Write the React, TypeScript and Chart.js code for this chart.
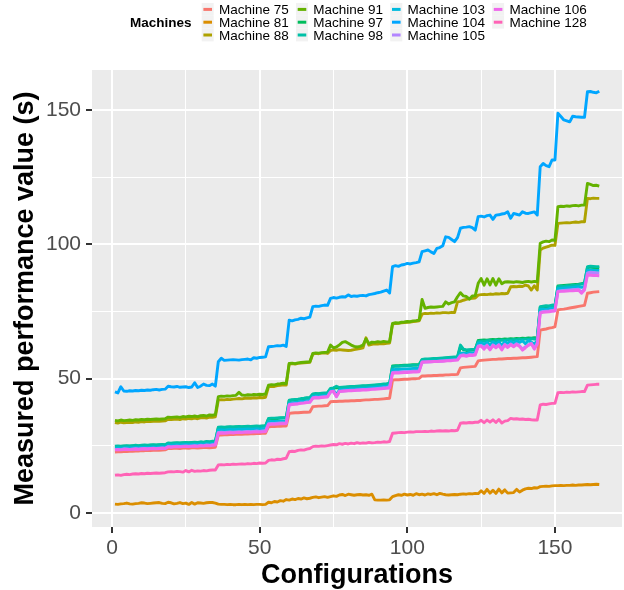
import React, { useEffect, useRef } from "react";
import { Chart, registerables } from "chart.js";

Chart.register(...registerables);

const machineNames = [
  "Machine 75", "Machine 81", "Machine 88", "Machine 91", "Machine 97", "Machine 98",
  "Machine 103", "Machine 104", "Machine 105", "Machine 106", "Machine 128",
];
const machineColors = [
  "#F8766D", "#DB8E00", "#AEA200", "#64B200", "#00BD5C", "#00C1A7",
  "#00BADE", "#00A6FF", "#B385FF", "#EF67EB", "#FF63B6",
];

const m75 = [
  22.7, 22.8, 22.8, 22.9, 22.9, 23.0, 23.0, 23.1, 23.1, 23.2, 23.2, 23.3, 23.2, 23.3, 23.4, 23.3, 23.4, 23.5, 24.0, 24.0, 24.1, 24.1, 24.0, 24.2, 24.2, 24.1, 24.3, 24.3, 24.2, 24.3, 24.4, 24.4, 24.3, 24.4, 24.5,
  29.0, 29.0, 29.1, 29.1, 29.2, 29.2, 29.3, 29.3, 29.3, 29.4, 29.4, 29.5, 29.5, 29.6, 29.6, 29.7, 29.7,
  32.1, 32.2, 32.2, 32.3, 32.3, 32.4, 32.4,
  37.1, 37.2, 37.3, 37.3, 37.4, 37.5, 37.5, 37.6,
  39.6, 39.7, 39.8, 39.8, 39.9, 40.0,
  41.4, 41.5, 41.5, 41.6, 41.6, 41.7, 41.7, 41.8, 41.8, 41.9, 41.9, 42.0, 42.1, 42.1, 42.2, 42.3, 42.3, 42.4, 42.5, 42.6, 42.7,
  49.5, 49.6, 49.6, 49.7, 49.8, 49.8, 49.9, 50.0, 50.0, 50.1,
  51.0, 51.0, 51.1, 51.1, 51.2, 51.2, 51.3, 51.3,
  51.4, 51.4, 51.5, 51.5, 51.6,
  54.0, 54.2, 54.3, 54.4, 54.5, 54.6,
  56.6, 56.8, 56.9, 57.0, 57.1, 57.2, 57.2, 57.3, 57.3, 57.4, 57.5, 57.5, 57.6, 57.6, 57.7, 57.8, 57.8, 57.9, 58.0, 58.1, 58.2,
  68.1, 68.3, 68.5, 68.8, 69.0, 69.3,
  75.6, 75.8, 75.9, 76.1, 76.3, 76.5, 76.7, 76.9, 77.1, 77.3,
  81.8, 82.0, 82.2, 82.3, 82.4,
];
const m81 = [
  3.3, 3.2, 3.4, 3.5, 3.7, 3.4, 3.3, 3.5, 3.6, 3.8, 3.7, 3.5, 3.6, 3.7, 3.8, 3.9, 3.6, 3.5, 4.0, 3.8, 3.4, 3.6, 3.9, 3.5, 3.7, 3.2, 3.9, 3.3, 3.8, 3.7, 3.6, 3.8, 3.9, 3.9, 3.7,
  3.3, 3.2, 3.2, 3.1, 3.2, 3.1, 3.1, 3.2, 3.1, 3.2, 3.1, 3.2, 3.1, 3.2, 3.2, 3.1, 3.2,
  4.0, 3.8, 4.3, 4.1, 4.6, 4.4, 5.0,
  4.8, 5.2, 5.0, 5.4, 5.2, 5.6, 5.3, 5.5,
  5.8, 6.0, 5.7, 5.9, 6.1, 5.8,
  6.1, 6.4, 6.2, 6.7, 6.9, 6.5, 7.0, 6.8, 6.6, 6.8, 6.9, 6.7, 6.8, 6.6, 7.0, 4.9, 4.8, 4.8, 4.9, 4.8, 4.9,
  6.1, 6.5, 6.8, 6.6, 7.0, 6.7, 6.9, 6.6, 7.2, 6.8,
  7.0, 6.7, 7.1, 6.9, 7.2, 6.8, 7.3, 7.0,
  6.8, 6.7, 6.8, 6.9, 6.8,
  7.0, 7.1, 7.0, 7.2, 7.1, 7.3,
  7.2, 8.3, 7.3, 8.8, 7.4, 8.5, 7.3, 8.9, 7.5, 8.6, 7.4, 7.5, 7.6, 8.8, 7.8, 8.5, 9.0, 9.2, 9.1, 9.4, 9.3,
  9.8, 9.9, 10.0, 9.9, 10.1, 10.2,
  10.2, 10.3, 10.2, 10.3, 10.3, 10.4, 10.3, 10.4, 10.4, 10.5,
  10.6, 10.5, 10.6, 10.7, 10.6,
];
const m88 = [
  33.7, 33.5, 33.8, 33.6, 33.7, 33.8, 33.7, 33.9, 33.8, 34.0, 33.9, 34.1, 34.0, 34.1, 34.2, 34.1, 34.2, 34.3, 34.9, 34.8, 34.9, 35.0, 34.8, 35.1, 35.0, 35.2, 35.1, 35.3, 35.1, 35.4, 35.5, 35.3, 35.7, 35.6, 35.8,
  42.0, 42.2, 42.1, 42.3, 42.2, 42.4, 42.5, 42.6, 42.5, 42.7, 42.8, 42.7, 42.9, 42.8, 43.0, 42.9, 43.1,
  47.0, 47.2, 47.1, 47.4, 47.5, 47.7, 47.6,
  55.5, 55.6, 55.4, 55.7, 55.8, 55.9, 56.0, 56.1,
  59.2, 59.4, 59.3, 59.5, 59.6, 59.4,
  60.5, 60.7, 60.6, 60.8, 60.7, 60.6, 60.5, 60.6, 60.8, 61.0, 61.2, 61.5, 65.2, 62.5, 62.8, 63.0, 62.9, 63.1, 63.0, 63.2, 63.3,
  70.4, 70.5, 70.6, 70.8, 70.9, 71.0, 71.1, 71.3, 71.4, 71.5,
  74.0, 74.3, 74.2, 74.4, 74.3, 74.5, 74.4, 74.6,
  74.6, 74.5, 74.7, 74.6, 78.6,
  78.8, 79.2, 79.5, 79.8, 79.9, 80.0,
  81.1, 81.3, 81.4, 81.3, 81.5, 81.4, 81.6, 81.5, 81.7, 81.6, 81.8, 84.2, 84.3, 84.2, 84.4, 84.3, 84.8, 84.5, 83.0, 84.6, 83.0,
  97.9, 98.6, 99.0, 99.3, 99.7, 99.6,
  107.8, 107.9, 108.0, 108.1, 108.0, 108.2, 108.3, 108.2, 108.4, 108.4,
  117.1, 117.0, 117.2, 117.1, 117.1,
];
const m91 = [
  34.5, 34.3, 34.6, 34.4, 34.5, 34.6, 34.5, 34.7, 34.6, 34.8, 34.7, 34.9, 34.8, 34.9, 35.0, 34.9, 35.0, 35.1, 35.7, 35.6, 35.7, 35.8, 35.6, 35.9, 35.8, 36.0, 35.9, 36.1, 35.9, 36.2, 36.3, 36.1, 36.5, 36.4, 36.6,
  43.3, 43.5, 43.4, 43.6, 43.5, 43.7, 43.8, 44.9, 43.9, 43.8, 44.0, 43.9, 44.1, 44.0, 44.2, 44.1, 44.3,
  47.6, 47.8, 47.7, 48.0, 48.1, 48.3, 48.2,
  55.7, 55.8, 55.6, 55.9, 56.0, 56.1, 56.2, 56.3,
  59.4, 59.6, 59.5, 59.7, 59.8, 59.9,
  62.5, 61.5, 61.8, 62.6, 63.5, 63.8, 63.2, 62.5, 62.0, 61.8, 62.0, 62.5, 64.8, 63.0, 63.6, 63.5, 63.8, 63.6, 63.9, 63.7, 63.8,
  70.6, 70.8, 70.7, 71.0, 71.1, 71.3, 71.2, 71.5, 71.6, 71.8,
  79.5, 76.2, 76.5, 76.7, 76.6, 76.7, 76.8, 76.9,
  78.6, 77.8, 78.3, 78.6, 80.5,
  82.0, 80.8, 80.6, 79.6, 80.8, 80.9,
  85.5, 87.3, 84.8, 87.2, 84.9, 87.3, 84.8, 87.2, 85.3, 86.0, 86.1, 86.0, 85.9, 86.1, 86.0, 85.8, 86.1, 86.2, 86.0, 86.2, 86.1,
  100.4, 100.9, 101.2, 101.0, 101.6, 101.5,
  114.0, 114.2, 114.1, 114.3, 114.2, 114.4, 114.5, 114.3, 114.6, 114.6,
  122.7, 122.3, 121.9, 122.0, 121.7,
];
const m97 = [
  24.7, 24.8, 24.8, 24.9, 24.9, 24.9, 25.0, 25.0, 25.0, 25.1, 25.1, 25.1, 25.2, 25.2, 25.2, 25.3, 25.3, 25.3, 25.9, 25.9, 26.0, 26.0, 26.0, 26.1, 26.1, 26.1, 26.2, 26.2, 26.2, 26.3, 26.3, 26.4, 26.4, 26.5, 26.6,
  31.7, 31.8, 31.8, 31.9, 31.9, 31.9, 32.0, 32.0, 32.0, 32.1, 32.1, 32.1, 32.2, 32.2, 32.2, 32.3, 32.3,
  35.0, 35.1, 35.2, 35.2, 35.3, 35.4, 35.4,
  41.8, 42.0, 42.1, 42.3, 42.4, 42.6, 42.7, 42.8,
  44.1, 44.2, 44.3, 44.4, 44.5, 44.6,
  46.2, 46.4, 46.7, 46.5, 46.6, 46.7, 46.8, 46.9, 46.9, 47.0, 47.1, 47.2, 47.2, 47.3, 47.4, 47.5, 47.6, 47.7, 47.8, 47.9, 48.1,
  54.7, 54.8, 54.8, 54.9, 55.0, 55.0, 55.1, 55.2, 55.2, 55.3,
  57.0, 57.1, 57.2, 57.2, 57.3, 57.4, 57.4, 57.5,
  57.6, 57.7, 57.8, 57.9, 58.0,
  61.8, 60.8, 60.5, 60.6, 60.7, 60.8,
  64.2, 64.3, 64.4, 64.3, 64.5, 64.6, 64.5, 64.7, 64.6, 64.8, 64.7, 64.9, 64.8, 65.0, 64.9, 65.1, 65.0, 65.2, 65.1, 65.3, 65.2,
  76.5, 76.8, 76.9, 76.8, 77.1, 77.0,
  84.5, 84.6, 84.7, 84.8, 84.9, 85.0, 85.1, 85.2, 85.4, 85.6,
  91.3, 91.5, 91.4, 91.3, 91.2,
];
const m98 = [
  24.9, 25.0, 24.9, 25.0, 25.1, 25.0, 25.1, 25.2, 25.1, 25.2, 25.3, 25.2, 25.3, 25.4, 25.3, 25.4, 25.5, 25.4, 26.1, 26.0, 26.1, 26.2, 26.1, 26.2, 26.3, 26.2, 26.3, 26.4, 26.3, 26.5, 26.4, 26.6, 26.5, 26.7, 26.8,
  31.9, 32.0, 31.9, 32.0, 32.1, 32.0, 32.1, 32.2, 32.1, 32.2, 32.3, 32.2, 32.3, 32.4, 32.3, 32.4, 32.5,
  35.2, 35.3, 35.3, 35.4, 35.5, 35.5, 35.6,
  42.0, 42.2, 42.3, 42.4, 42.6, 42.7, 42.9, 43.0,
  44.3, 44.5, 44.4, 44.6, 44.7, 44.8,
  46.4, 46.6, 47.2, 46.7, 46.8, 46.9, 47.0, 47.1, 47.1, 47.2, 47.3, 47.4, 47.4, 47.5, 47.6, 47.7, 47.8, 47.9, 48.0, 48.1, 48.3,
  54.5, 54.6, 54.6, 54.7, 54.8, 54.8, 54.9, 55.0, 55.0, 55.1,
  57.2, 57.3, 57.3, 57.4, 57.5, 57.5, 57.6, 57.7,
  57.8, 57.9, 58.0, 58.1, 58.2,
  62.5, 61.0, 60.7, 60.8, 60.9, 61.0,
  63.8, 64.0, 63.9, 64.1, 64.2, 63.8, 64.3, 64.1, 64.4, 64.2, 64.5, 64.3, 64.6, 64.4, 64.7, 64.5, 64.8, 64.6, 64.9, 64.7, 65.0,
  76.8, 77.0, 77.2, 77.1, 77.4, 77.3,
  84.2, 84.4, 84.3, 84.6, 84.5, 84.8, 84.7, 85.0, 85.2, 85.5,
  91.7, 91.9, 91.8, 91.7, 91.7,
];
const m103 = [
  24.1, 24.2, 24.1, 24.2, 24.3, 24.2, 24.3, 24.4, 24.3, 24.4, 24.5, 24.4, 24.5, 24.6, 24.5, 24.6, 24.7, 24.6, 25.3, 25.2, 25.3, 25.4, 25.3, 25.4, 25.5, 25.4, 25.5, 25.6, 25.5, 25.7, 25.6, 25.8, 25.7, 25.9, 26.0,
  30.9, 31.0, 30.9, 31.0, 31.1, 31.0, 31.1, 31.2, 31.1, 31.2, 31.3, 31.2, 31.3, 31.4, 31.3, 31.4, 31.5,
  34.0, 34.1, 34.1, 34.2, 34.3, 34.3, 34.4,
  40.9, 41.1, 41.2, 41.3, 41.5, 41.6, 41.8, 41.9,
  43.4, 43.6, 43.5, 43.7, 43.8, 43.9,
  45.5, 45.7, 44.0, 45.8, 45.9, 46.0, 46.1, 46.2, 46.2, 46.3, 46.4, 46.5, 46.5, 46.6, 46.7, 46.8, 46.9, 47.0, 47.1, 47.2, 47.4,
  53.3, 53.4, 53.4, 53.5, 53.6, 53.6, 53.7, 53.8, 53.8, 53.9,
  56.3, 56.4, 56.4, 56.5, 56.6, 56.6, 56.7, 56.8,
  56.9, 57.0, 57.1, 57.2, 57.3,
  59.4, 59.6, 59.3, 59.7, 59.6, 59.8,
  63.2, 63.4, 62.8, 63.5, 62.5, 63.6, 63.0, 63.7, 62.4, 63.8, 63.2, 63.9, 63.3, 64.0, 63.5, 64.1, 63.0, 64.2, 63.6, 62.8, 64.3,
  75.8, 76.0, 75.9, 76.1, 76.2, 76.3,
  83.5, 83.6, 83.7, 83.8, 83.9, 84.0, 84.1, 84.2, 84.0, 84.4,
  90.3, 90.5, 90.4, 90.3, 90.3,
];
const m104 = [
  45.1, 44.7, 47.0, 45.4, 45.3, 45.5, 45.4, 45.6, 45.5, 45.7, 45.6, 45.8, 45.7, 45.9, 46.0, 45.8, 46.0, 46.1, 47.2, 47.0, 46.9, 47.1, 46.8, 46.9, 47.0, 46.7, 46.9, 48.5, 46.7, 47.2, 48.0, 47.5, 47.4, 48.0, 47.2,
  56.3, 57.6, 56.8, 56.9, 57.0, 57.1, 57.0, 56.9, 57.1, 57.2, 57.3, 57.0, 57.8, 57.6, 57.9, 58.0, 58.1,
  61.9, 62.0, 62.1, 62.3, 62.2, 62.5, 62.0,
  71.8, 71.5, 71.9, 72.1, 72.5, 72.3, 72.6, 72.9,
  76.8, 77.0, 76.9, 77.2, 77.4, 77.3,
  79.9, 80.2, 80.0, 80.3, 80.5, 80.4, 81.2, 80.6, 80.8, 80.7, 80.9, 81.0, 80.8, 81.3, 81.5, 81.7, 82.0, 82.2, 82.6, 83.0, 81.9,
  91.7, 92.1, 91.8, 92.3, 92.5, 92.9, 92.7, 93.0, 93.2, 93.5,
  97.3, 97.6, 97.9, 97.2, 96.6, 98.5, 98.8, 99.5,
  102.8, 102.6, 101.8, 101.0, 102.5,
  106.0, 106.3, 106.4, 106.6, 106.2, 105.3,
  110.3, 110.5, 110.2, 110.7, 110.9, 109.3, 110.9, 111.0, 111.3, 111.5, 112.1, 109.7, 111.5, 111.2, 110.9, 112.1, 111.6, 111.5, 111.8, 112.1, 110.9,
  128.9, 130.1, 129.3, 128.9, 131.4, 131.4,
  148.8, 147.6, 146.3, 146.0, 145.6, 147.7, 147.5, 147.4, 147.3, 147.3,
  156.8, 156.9, 156.6, 156.4, 157.0,
];
const m105 = [
  23.6, 23.7, 23.6, 23.9, 23.8, 23.7, 23.8, 23.9, 23.8, 23.9, 24.0, 23.9, 24.0, 24.1, 24.0, 24.1, 24.2, 24.1, 24.8, 24.7, 24.8, 24.9, 24.8, 24.9, 25.0, 24.9, 25.0, 25.1, 25.0, 25.2, 25.1, 25.3, 25.2, 25.4, 25.5,
  30.0, 30.1, 30.0, 30.1, 30.2, 30.1, 30.2, 30.3, 30.2, 30.3, 30.4, 30.3, 30.4, 30.5, 30.4, 30.5, 30.6,
  33.2, 33.3, 33.3, 33.4, 33.5, 33.5, 33.6,
  40.4, 40.6, 40.7, 40.8, 41.0, 41.1, 41.3, 41.4,
  42.9, 43.1, 43.0, 43.2, 43.3, 43.4,
  45.0, 45.2, 43.4, 45.3, 45.4, 45.5, 45.6, 45.7, 45.7, 45.8, 45.9, 46.0, 46.0, 46.1, 46.2, 46.3, 46.4, 46.5, 46.6, 46.7, 46.9,
  52.3, 52.4, 52.4, 52.5, 52.6, 52.6, 52.7, 52.8, 52.8, 52.9,
  56.1, 56.2, 56.2, 56.3, 56.4, 56.4, 56.5, 56.6,
  56.7, 56.8, 56.9, 57.0, 57.1,
  58.7, 58.9, 58.6, 59.0, 58.9, 59.1,
  62.2, 62.4, 61.5, 62.5, 61.0, 62.6, 61.8, 62.7, 61.2, 62.8, 61.9, 62.9, 62.2, 63.0, 62.3, 61.0, 61.9, 62.4, 63.2, 61.3, 63.3,
  74.8, 75.0, 75.1, 75.2, 75.4, 75.5,
  82.6, 82.7, 82.8, 82.9, 83.0, 83.1, 83.2, 83.3, 82.1, 83.5,
  89.4, 89.6, 89.5, 89.4, 89.3,
];
const m106 = [
  23.5, 23.6, 23.5, 23.6, 23.7, 23.6, 23.7, 23.8, 23.7, 23.8, 23.9, 23.8, 23.9, 24.0, 23.9, 24.0, 24.1, 24.0, 24.6, 24.5, 24.6, 24.7, 24.6, 24.7, 24.8, 24.7, 24.8, 24.9, 24.8, 25.0, 24.9, 25.1, 25.0, 25.2, 25.3,
  29.7, 29.8, 29.7, 29.8, 29.9, 29.8, 29.9, 30.0, 29.9, 30.0, 30.1, 30.0, 30.1, 30.2, 30.1, 30.2, 30.3,
  32.9, 33.0, 33.0, 33.1, 33.2, 33.2, 33.3,
  40.2, 40.4, 40.5, 40.6, 40.8, 40.9, 41.1, 41.2,
  42.7, 42.9, 42.8, 43.0, 43.1, 43.2,
  45.2, 45.3, 43.3, 45.2, 45.3, 45.4, 45.5, 45.5, 45.6, 45.7, 45.7, 45.8, 45.8, 45.9, 46.0, 46.0, 46.1, 46.2, 46.3, 46.4, 46.5,
  52.0, 52.1, 52.1, 52.2, 52.3, 52.3, 52.4, 52.5, 52.5, 52.6,
  56.2, 56.2, 56.3, 56.3, 56.4, 56.4, 56.5, 56.5,
  56.6, 56.7, 56.7, 56.8, 56.9,
  58.4, 58.6, 58.3, 58.7, 58.6, 58.8,
  61.9, 62.1, 61.0, 62.2, 60.7, 62.3, 61.5, 62.4, 60.7, 62.5, 61.6, 62.6, 61.9, 62.7, 62.0, 60.6, 61.5, 62.5, 63.0, 61.0, 62.8,
  74.5, 74.7, 74.8, 74.9, 75.1, 75.2,
  82.4, 82.5, 82.5, 82.6, 82.7, 82.7, 82.8, 82.9, 81.8, 83.0,
  88.6, 88.5, 88.4, 88.4, 88.3,
];
const m128 = [
  14.1, 14.2, 14.0, 14.3, 14.4, 14.3, 14.5, 14.6, 14.5, 14.7, 14.6, 14.8, 14.7, 14.8, 14.9, 14.8, 14.9, 15.0, 15.3, 15.4, 15.3, 15.5, 15.4, 15.2, 15.8, 15.3, 15.9, 15.5, 15.7, 15.6, 15.8, 15.7, 15.9, 16.0, 16.0,
  17.9, 18.0, 17.9, 18.1, 18.0, 18.2, 18.1, 18.2, 18.3, 18.2, 18.4, 18.3, 18.5, 18.4, 18.6, 18.5, 18.6,
  19.6, 19.8, 19.7, 20.0, 19.9, 20.2, 20.4,
  22.8, 23.0, 22.9, 23.3, 23.5, 23.4, 23.8, 24.0,
  24.7, 24.9, 24.8, 25.0, 24.9, 25.1,
  25.3, 25.5, 25.4, 25.8, 25.6, 25.9, 25.7, 26.0, 25.8, 26.2, 25.9, 26.1, 26.0, 26.3, 26.1, 26.2, 26.4, 26.3, 26.5, 26.4, 26.6,
  29.7, 29.8, 29.9, 30.0, 29.9, 30.1, 30.2, 30.1, 30.3, 30.3,
  30.3, 30.4, 30.3, 30.5, 30.4, 30.5, 30.6, 30.5,
  30.6, 30.5, 30.7, 30.6, 30.8,
  33.4, 33.6, 33.5, 33.7, 33.6, 33.8,
  33.8, 34.5, 33.6, 34.6, 33.8, 34.7, 33.7, 34.8, 33.5, 34.2, 34.4, 35.2, 35.0, 35.1, 34.9, 35.0, 34.8, 34.9, 34.7, 34.6, 34.6,
  40.2, 40.5, 40.4, 40.6, 40.8, 40.8,
  44.8, 44.9, 44.8, 45.0, 44.9, 45.1, 45.0, 45.1, 45.2, 45.2,
  47.6, 47.7, 47.8, 47.9, 47.9,
];

const seriesValues = [m75, m81, m88, m91, m97, m98, m103, m104, m105, m106, m128];
const xGridValues = [0, 25, 50, 75, 100, 125, 150];
const yGridValues = [0, 25, 50, 75, 100, 125, 150];
const xTitle = "Configurations";
const yTitle = "Measured performance value (s)";
const legendTitle = "Machines";

const FONT = '"Liberation Sans", Arial, Helvetica, sans-serif';

const isMajor = (v: number) => v % 50 === 0;

export default function App() {
  const ref = useRef<HTMLCanvasElement | null>(null);

  useEffect(() => {
    const canvas = ref.current;
    if (!canvas) return;

    const decor = {
      id: "ggdecor",
      beforeDraw(chart: any) {
        const { ctx, chartArea } = chart;
        ctx.save();
        ctx.fillStyle = "#FFFFFF";
        ctx.fillRect(0, 0, chart.width, chart.height);
        ctx.fillStyle = "#EBEBEB";
        ctx.fillRect(chartArea.left, chartArea.top, chartArea.right - chartArea.left, chartArea.bottom - chartArea.top);
        ctx.restore();
      },
      afterDraw(chart: any) {
        const { ctx, chartArea } = chart;
        ctx.save();
        ctx.fillStyle = "#000000";
        ctx.font = `bold 27px ${FONT}`;
        ctx.textAlign = "center";
        ctx.textBaseline = "alphabetic";
        ctx.fillText(xTitle, (chartArea.left + chartArea.right) / 2, 583);
        ctx.save();
        ctx.translate(33, (chartArea.top + chartArea.bottom) / 2);
        ctx.rotate(-Math.PI / 2);
        ctx.fillText(yTitle, 0, 0);
        ctx.restore();

        const rowBase = [14.2, 27.0, 39.8];
        ctx.textAlign = "left";
        ctx.font = `bold 13.5px ${FONT}`;
        ctx.fillText(legendTitle, 130, 27.3);
        ctx.font = `13.5px ${FONT}`;
        let colX = 201.7;
        const nCols = Math.ceil(machineNames.length / 3);
        for (let c = 0; c < nCols; c++) {
          let maxW = 0;
          for (let r = 0; r < 3; r++) {
            const i = c * 3 + r;
            if (i >= machineNames.length) break;
            const cy = rowBase[r] - 4.8;
            ctx.fillStyle = "#F2F2F2";
            ctx.fillRect(colX, cy - 6.4, 12, 12.8);
            ctx.strokeStyle = machineColors[i];
            ctx.lineWidth = 3;
            ctx.lineCap = "butt";
            ctx.beginPath();
            ctx.moveTo(colX + 1.7, cy);
            ctx.lineTo(colX + 10.3, cy);
            ctx.stroke();
            ctx.fillStyle = "#000000";
            ctx.fillText(machineNames[i], colX + 17.3, rowBase[r]);
            maxW = Math.max(maxW, ctx.measureText(machineNames[i]).width);
          }
          colX = colX + 17.3 + maxW + 7.2;
        }
        ctx.restore();
      },
    };

    const axisCommon = (values: number[], pad: number) => ({
      afterBuildTicks: (scale: any) => {
        scale.ticks = values.map((v) => ({ value: v }));
      },
      border: { display: false },
      grid: {
        color: "#FFFFFF",
        lineWidth: (c: any) => (c.tick && isMajor(c.tick.value) ? 2 : 1),
        drawTicks: true,
        tickLength: 6,
        tickWidth: 2,
        tickColor: (c: any) => (c.tick && isMajor(c.tick.value) ? "#333333" : "rgba(0,0,0,0)"),
      },
      ticks: {
        autoSkip: false,
        maxRotation: 0,
        minRotation: 0,
        padding: pad,
        color: "#4D4D4D",
        font: { family: FONT, size: 21 },
        callback: (v: any) => (isMajor(Number(v)) ? String(v) : ""),
      },
    });

    const chart = new Chart(canvas, {
      type: "line",
      data: {
        datasets: seriesValues.map((vals, i) => ({
          label: machineNames[i],
          data: vals.map((v, j) => ({ x: j + 1, y: v })),
          borderColor: machineColors[i],
          backgroundColor: machineColors[i],
          borderWidth: 2.9,
          pointRadius: 0,
          pointHoverRadius: 0,
          tension: 0,
          fill: false,
          borderCapStyle: "butt",
          borderJoinStyle: "round",
          order: seriesValues.length - i,
        })),
      },
      options: {
        animation: false,
        responsive: false,
        devicePixelRatio: 1,
        events: [],
        layout: { padding: { top: 70, right: 2, left: 0, bottom: 0 } },
        plugins: { legend: { display: false }, tooltip: { enabled: false } },
        scales: {
          x: {
            type: "linear",
            min: -6.77,
            max: 172.7,
            afterFit: (s: any) => {
              s.height = 63;
            },
            ...axisCommon(xGridValues, 3),
          },
          y: {
            type: "linear",
            min: -5.21,
            max: 164.9,
            afterFit: (s: any) => {
              s.width = 92;
            },
            ...axisCommon(yGridValues, 5),
          },
        },
      } as any,
      plugins: [decor],
    });

    return () => chart.destroy();
  }, []);

  return (
    <div style={{ position: "absolute", left: 0, top: 0, width: 624, height: 590, background: "#FFFFFF" }}>
      <canvas ref={ref} width={624} height={590} style={{ display: "block", width: 624, height: 590 }} />
    </div>
  );
}
